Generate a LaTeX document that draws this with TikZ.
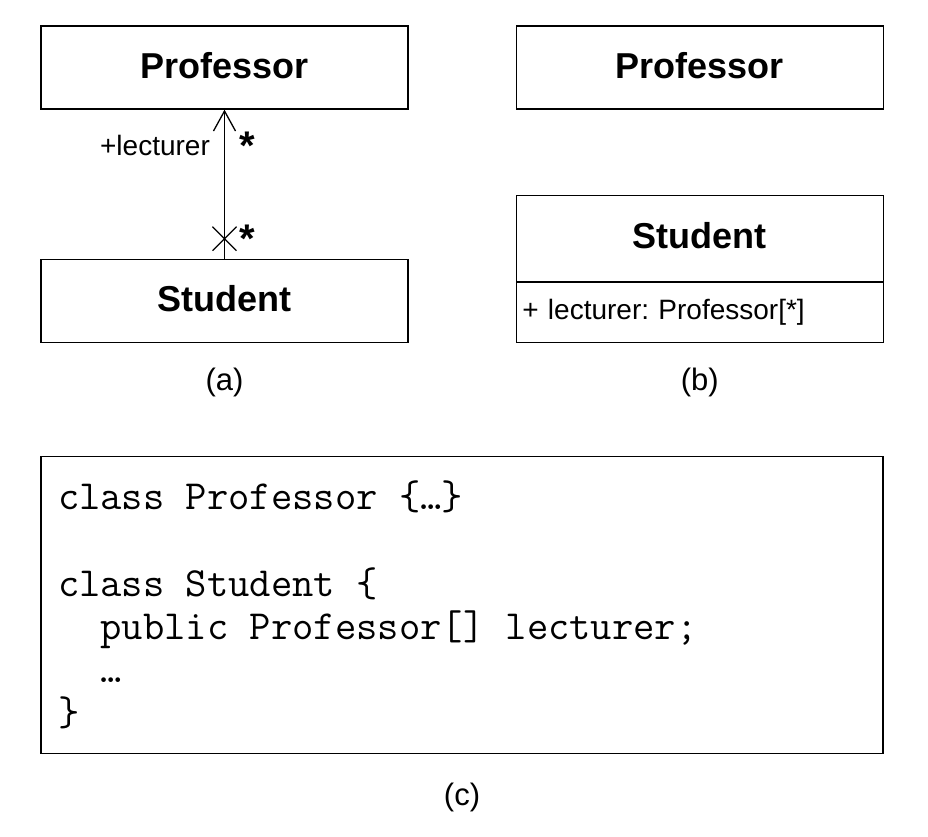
\documentclass[tikz,border=0pt]{standalone}
\usepackage{fontspec}
\setmainfont{Liberation Sans}
\usetikzlibrary{positioning,arrows.meta}
\frenchspacing
\newcommand\tsp{\hphantom{x}}

\begin{document}
\begin{tikzpicture}[
  x=1pt, y=-1pt, line width=1.3pt, >={Straight Barb[length=20pt,width=22pt]},
  cls/.style={draw, minimum width=367pt, minimum height=83pt, inner sep=0pt, text depth=4pt, font=\fontsize{36}{40}\selectfont\bfseries},
  lbl/.style={inner sep=0pt, font=\fontsize{28}{32}\selectfont},
  mult/.style={inner sep=0pt, font=\fontsize{40}{40}\selectfont\bfseries},
  subcap/.style={inner sep=0pt, font=\fontsize{31}{36}\selectfont},
  codebox/.style={draw, align=left, inner xsep=17pt, font=\ttfamily\fontsize{41.4}{43.2}\selectfont},
]
\useasboundingbox (0,0) rectangle (928,836);

% (a) association
\node[cls] (profA) at (224.5,67.5) {Professor};
\node[cls, below=149pt of profA] (stuA) {Student};
\draw[->] (stuA) -- node[pos=0.76, lbl, left=14pt] {+lecturer}
  node[pos=0.76, mult, right=14pt] {*}
  coordinate[pos=0.134] (xm) node[pos=0.134, mult, right=14pt] {*} (profA);
\draw (xm) ++(-12,-12) -- ++(24,24) (xm) ++(-12,12) -- ++(24,-24);
\node[subcap, below=24pt of stuA] (capA) {(a)};

% (b) attribute
\node[cls, right=107pt of profA] (profB) {Professor};
\node[cls, minimum height=86pt, text depth=6pt, below=85pt of profB] (stuB) {Student};
\node[lbl, draw, below=0pt of stuB, minimum height=60pt, text width=355pt, inner xsep=6pt, align=left] (attrB) {+ lecturer: Professor[*]};
\node[subcap, below=24pt of attrB] (capB) {(b)};

% (c) code
\node[codebox, below=113pt of stuA.south west, anchor=north west, minimum height=297pt, text width=808pt]
  (code) {class\tsp Professor\tsp\{…\}\\[43.2pt]
  class\tsp Student\tsp\{\\
  \tsp\tsp public\tsp Professor[]\tsp lecturer;\\
  \tsp\tsp …\\
  \}};
\node[subcap, below=28pt of code] (capC) {(c)};
\end{tikzpicture}
\end{document}
